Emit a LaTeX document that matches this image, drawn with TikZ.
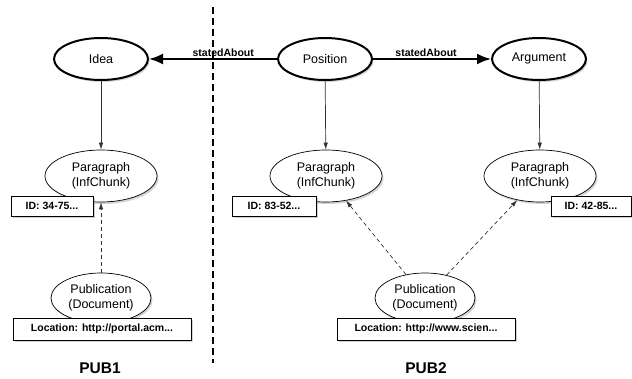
\documentclass[tikz,border=0pt]{standalone}
\usepackage{fontspec}
\setmainfont{Liberation Sans}
\usetikzlibrary{shapes.geometric,arrows.meta,shadows}
\begin{document}
\begin{tikzpicture}[x=1pt,y=-1pt,
  shad/.style={drop shadow={opacity=0.35,shadow xshift=1.5pt,shadow yshift=-2pt}},
  topnode/.style={ellipse,draw,line width=2pt,fill=white,shad,inner sep=0pt,
     minimum width=94pt,minimum height=42pt,font=\fontsize{12.5}{14}\selectfont},
  midnode/.style={ellipse,draw,line width=0.7pt,fill=white,shad,inner sep=0pt,align=center,
     minimum width=112pt,minimum height=52pt,font=\fontsize{12.5}{15}\selectfont},
  pubnode/.style={ellipse,draw,line width=0.7pt,fill=white,shad,inner sep=0pt,align=center,
     minimum width=100pt,minimum height=50pt,font=\fontsize{12.5}{15}\selectfont},
  infobox/.style={rectangle,draw,line width=0.8pt,fill=white,shad,inner sep=0pt,
     minimum height=20pt,font=\bfseries\fontsize{10.5}{12}\selectfont},
  bigarrow/.style={line width=2pt,-{Latex[length=14pt,width=11pt]}},
  thinarrow/.style={line width=0.7pt,draw=black!80,-{Latex[length=7pt,width=4.5pt]}},
  dasharrow/.style={thinarrow,dash pattern=on 4pt off 3pt},
  lbl/.style={font=\bfseries\fontsize{10.5}{12}\selectfont,inner sep=1pt},
  pub/.style={font=\bfseries\fontsize{15.5}{17}\selectfont}]
\useasboundingbox (0,0) rectangle (632,379);

% divider
\coordinate (dtop) at (213,7);
\coordinate (dbot) at (213,363);
\draw[line width=1.4pt,dash pattern=on 7pt off 4pt] (dtop) -- (dbot);

% top row
\node[topnode] (idea) at (101,59) {Idea};
\node[topnode] (position) at (325,59) {Position};
\node[topnode] (argument) at (539,59) {Argument};

% paragraphs
\node[midnode] (para1) at (101,176) {Paragraph\\(InfChunk)};
\node[midnode] (para2) at (326,176) {Paragraph\\(InfChunk)};
\node[midnode] (para3) at (540,176) {Paragraph\\(InfChunk)};

% publications
\node[pubnode] (pub1) at (101,298) {Publication\\(Document)};
\node[pubnode] (pub2) at (425,298) {Publication\\(Document)};

% connectors
\draw[bigarrow] (position) -- node[pos=0.42,above,lbl] {statedAbout} (idea);
\draw[bigarrow] (position) -- node[pos=0.45,above,lbl] {statedAbout} (argument);
\draw[thinarrow] (idea) -- (para1);
\draw[thinarrow] (position) -- (para2);
\draw[thinarrow] (argument) -- (para3);
\draw[dasharrow] (pub1) -- (para1);
\draw[dasharrow] (pub2) -- (para2);
\draw[dasharrow] (pub2) -- (para3);

% info boxes
\node[infobox,minimum width=82pt] (id1) at (52,206) {ID: 34-75...};
\node[infobox,minimum width=84pt] (id2) at (274,206) {ID: 83-52...};
\node[infobox,minimum width=80pt] (id3) at (591,206) {ID: 42-85...};
\node[infobox,minimum width=178pt,minimum height=22pt] (loc1) at (102,329) {Location: http://portal.acm...};
\node[infobox,minimum width=178pt,minimum height=22pt] (loc2) at (426,329) {Location: http://www.scien...};

% group labels
\node[pub] (pub1lbl) at (100,368) {PUB1};
\node[pub] (pub2lbl) at (426,368) {PUB2};
\end{tikzpicture}
\end{document}
